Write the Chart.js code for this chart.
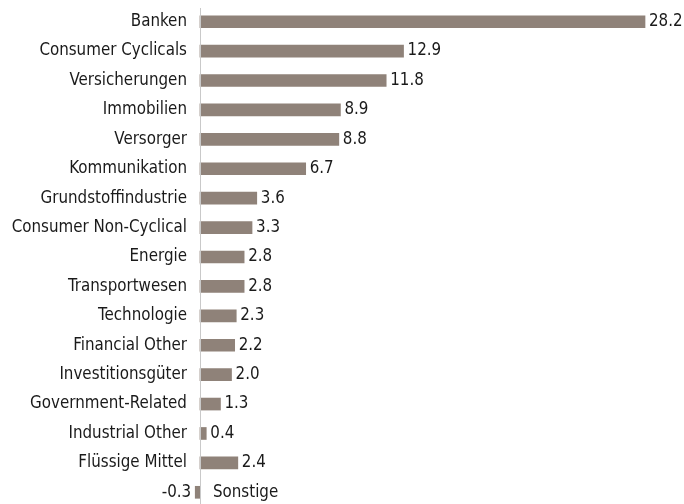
<!DOCTYPE html>
<html lang="de">
<head>
  <meta charset="UTF-8" />
  <title>Sektoren</title>
  <script src="https://cdn.jsdelivr.net/npm/chart.js"></script>
  <style>
    html, body { margin: 0; padding: 0; background: #fff; overflow: hidden; }
    #wrap { width: 684px; height: 507px; position: relative; }
  </style>
</head>
<body>
  <div id="wrap"><canvas id="sectorChart"></canvas></div>

  <script>
    const categories = [
      'Banken', 'Consumer Cyclicals', 'Versicherungen', 'Immobilien', 'Versorger',
      'Kommunikation', 'Grundstoffindustrie', 'Consumer Non-Cyclical', 'Energie',
      'Transportwesen', 'Technologie', 'Financial Other', 'Investitionsgüter',
      'Government-Related', 'Industrial Other', 'Flüssige Mittel', 'Sonstige'
    ];
    const values = [28.2, 12.9, 11.8, 8.9, 8.8, 6.7, 3.6, 3.3, 2.8, 2.8, 2.3, 2.2, 2.0, 1.3, 0.4, 2.4, -0.3];

    const FONT = '16.8px "DejaVu Sans Condensed", "Liberation Sans Narrow", sans-serif';

    // labels + zero line drawn by hand so negative bars get flipped labels
    const labelPlugin = {
      id: 'labels',
      afterDatasetsDraw(chart) {
        const ctx = chart.ctx;
        const x = chart.scales.x, y = chart.scales.y;
        const x0 = x.getPixelForValue(0);
        ctx.save();
        ctx.strokeStyle = '#c9c9c9';
        ctx.lineWidth = 1;
        ctx.beginPath();
        ctx.moveTo(Math.round(x0) + 0.5, 8);
        ctx.lineTo(Math.round(x0) + 0.5, 504);
        ctx.stroke();

        ctx.font = FONT;
        ctx.fillStyle = '#1a1a1a';
        ctx.textBaseline = 'middle';
        categories.forEach((c, i) => {
          const v = values[i];
          const yp = y.getPixelForValue(i);
          const xe = x.getPixelForValue(v);
          const txt = v.toFixed(1);
          if (v >= 0) {
            ctx.textAlign = 'right';
            ctx.fillText(c, x0 - 13, yp);
            ctx.textAlign = 'left';
            ctx.fillText(txt, xe + 4, yp);
          } else {
            ctx.textAlign = 'left';
            ctx.fillText(c, x0 + 13, yp);
            ctx.textAlign = 'right';
            ctx.fillText(txt, xe - 4, yp);
          }
        });
        ctx.restore();
      }
    };

    new Chart(document.getElementById('sectorChart'), {
      type: 'bar',
      data: {
        labels: categories,
        datasets: [{
          data: values,
          backgroundColor: '#8f8279',
          barThickness: 12
        }]
      },
      options: {
        indexAxis: 'y',
        responsive: true,
        maintainAspectRatio: false,
        animation: false,
        layout: { padding: { top: 7, bottom: 0, left: 0, right: 0 } },
        plugins: { legend: { display: false }, tooltip: { enabled: false } },
        scales: {
          x: { display: false, min: -12.67, max: 30.67 },
          y: { display: false }
        }
      },
      plugins: [labelPlugin]
    });
  </script>
</body>
</html>
